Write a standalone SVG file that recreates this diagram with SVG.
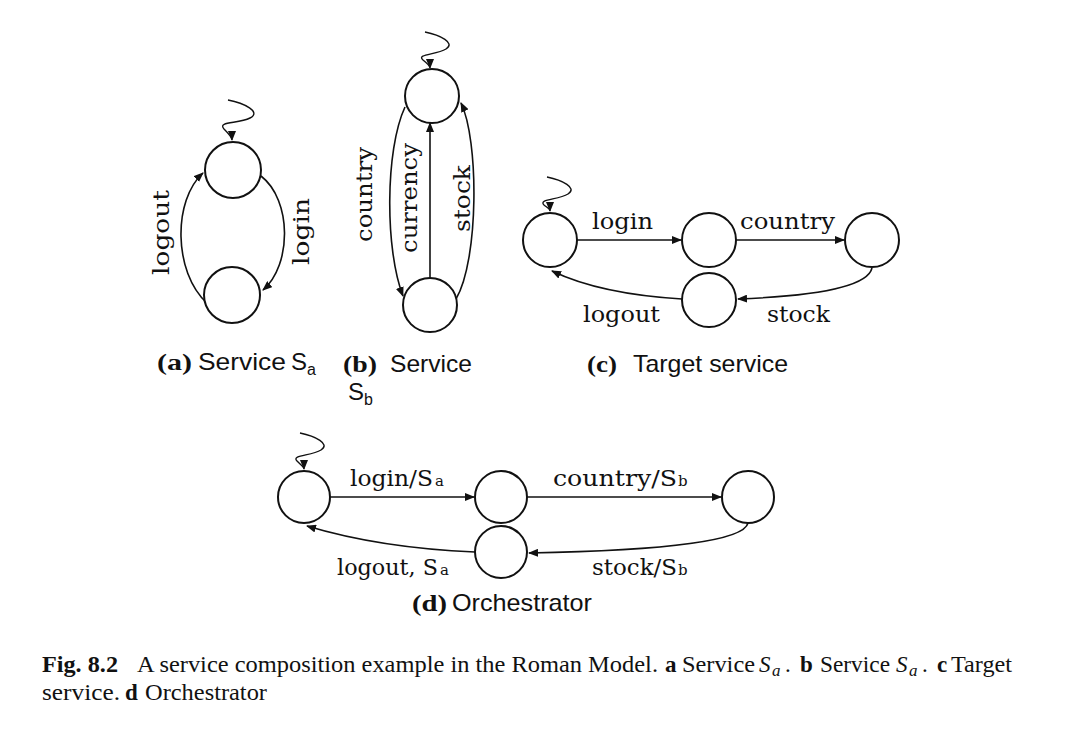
<svg xmlns="http://www.w3.org/2000/svg" width="1084" height="748" viewBox="0 0 1084 748">
<style>
.st{fill:#fff;stroke:#111;stroke-width:2}
.ed{fill:none;stroke:#111;stroke-width:1.6}
.sq{fill:none;stroke:#111;stroke-width:1.4}
.lb{font-family:"DejaVu Serif","Liberation Serif",serif;font-size:22px;fill:#111}
.sub{font-family:"DejaVu Serif","Liberation Serif",serif;font-size:15px;fill:#111}
.cb{font-family:"Liberation Serif",serif;font-weight:bold;font-size:24px;fill:#111}
.cs{font-family:"Liberation Sans",Arial,sans-serif;font-size:24px;fill:#111}
.css{font-family:"Liberation Sans",Arial,sans-serif;font-size:16px;fill:#111}
.fc{font-family:"Liberation Serif",serif;font-size:23px;fill:#111}
.fb{font-family:"Liberation Serif",serif;font-weight:bold;font-size:23px;fill:#111}
.fi{font-family:"Liberation Serif",serif;font-style:italic;font-size:23px;fill:#111}
.fis{font-family:"Liberation Serif",serif;font-style:italic;font-size:17px;fill:#111}
</style>
<defs>
<marker id="ah" markerWidth="10" markerHeight="8" refX="9" refY="4" orient="auto" markerUnits="userSpaceOnUse">
<path d="M0,0 L10,4 L0,8 z" fill="#111"/>
</marker>
</defs>

<g id="connectors">
<!-- (a) -->
<path class="sq" d="M228,100 C244,103 262,112 250,118 C238,124 217,121 224,129 C229,134 232,137 232,140" marker-end="url(#ah)"/>
<path class="ed" d="M207,303 C173,272 173,200 203,173" marker-end="url(#ah)"/>
<path class="ed" d="M261,176 C292,200 292,265 263,290" marker-end="url(#ah)"/>
<!-- (b) -->
<path class="sq" d="M425,32 C440,35 456,43 446,49 C436,55 416,54 423,60 C428,64 430,66 430,68" marker-end="url(#ah)"/>
<path class="ed" d="M405,107 C385,150 385,250 403,296" marker-end="url(#ah)"/>
<path class="ed" d="M430,278 L430,123" marker-end="url(#ah)"/>
<path class="ed" d="M456,299 C479,260 479,140 461,103" marker-end="url(#ah)"/>
<!-- (c) -->
<path class="sq" d="M547,177 C562,180 578,188 568,194 C558,200 538,199 544,205 C548,208 550,209 550,211" marker-end="url(#ah)"/>
<path class="ed" d="M577,240 L681,240" marker-end="url(#ah)"/>
<path class="ed" d="M736,240 L844,240" marker-end="url(#ah)"/>
<path class="ed" d="M872,268 Q866,294 738,299" marker-end="url(#ah)"/>
<path class="ed" d="M682,299 Q600,294 552,271" marker-end="url(#ah)"/>
<!-- (d) -->
<path class="sq" d="M300,433 C315,436 331,444 321,450 C311,456 291,455 297,461 C301,465 304,467 304,469" marker-end="url(#ah)"/>
<path class="ed" d="M330,497 L474,497" marker-end="url(#ah)"/>
<path class="ed" d="M527,497 L721,497" marker-end="url(#ah)"/>
<path class="ed" d="M748,523 Q742,549 529,553" marker-end="url(#ah)"/>
<path class="ed" d="M475,552 Q380,548 307,526" marker-end="url(#ah)"/>
</g>

<g id="a-s0"><circle class="st" cx="233" cy="170" r="28"/></g>
<g id="a-s1"><circle class="st" cx="232" cy="295" r="28"/></g>
<g id="b-s0"><circle class="st" cx="432" cy="96" r="27"/></g>
<g id="b-s1"><circle class="st" cx="430" cy="305" r="27"/></g>
<g id="c-s0"><circle class="st" cx="550" cy="240" r="27"/></g>
<g id="c-s1"><circle class="st" cx="709" cy="240" r="27"/></g>
<g id="c-s2"><circle class="st" cx="872" cy="240" r="27"/></g>
<g id="c-s3"><circle class="st" cx="709" cy="300" r="27"/></g>
<g id="d-s0"><circle class="st" cx="304" cy="497" r="26"/></g>
<g id="d-s1"><circle class="st" cx="501" cy="497" r="26"/></g>
<g id="d-s2"><circle class="st" cx="748" cy="497" r="26"/></g>
<g id="d-s3"><circle class="st" cx="501" cy="552" r="26"/></g>

<g id="labels">
<text class="lb" transform="translate(169,275) rotate(-90)" textLength="85" lengthAdjust="spacingAndGlyphs">logout</text>
<text class="lb" transform="translate(309,265) rotate(-90)" textLength="67" lengthAdjust="spacingAndGlyphs">login</text>
<text class="lb" transform="translate(372,242) rotate(-90)" textLength="95" lengthAdjust="spacingAndGlyphs">country</text>
<text class="lb" transform="translate(417,253) rotate(-90)" textLength="110" lengthAdjust="spacingAndGlyphs">currency</text>
<text class="lb" transform="translate(470,232) rotate(-90)" textLength="67" lengthAdjust="spacingAndGlyphs">stock</text>

<text class="lb" x="592" y="229" textLength="61" lengthAdjust="spacingAndGlyphs">login</text>
<text class="lb" x="740" y="229" textLength="95" lengthAdjust="spacingAndGlyphs">country</text>
<text class="lb" x="583" y="322" textLength="77" lengthAdjust="spacingAndGlyphs">logout</text>
<text class="lb" x="767" y="322" textLength="63" lengthAdjust="spacingAndGlyphs">stock</text>

<text class="lb" x="350" y="486" textLength="83" lengthAdjust="spacingAndGlyphs">login/S</text>
<text class="sub" x="435" y="486">a</text>
<text class="lb" x="553" y="486" textLength="124" lengthAdjust="spacingAndGlyphs">country/S</text>
<text class="sub" x="678" y="486">b</text>
<text class="lb" x="337" y="575" textLength="101" lengthAdjust="spacingAndGlyphs">logout, S</text>
<text class="sub" x="440" y="575">a</text>
<text class="lb" x="592" y="575" textLength="85" lengthAdjust="spacingAndGlyphs">stock/S</text>
<text class="sub" x="678" y="575">b</text>
</g>

<g id="subcaptions">
<text class="cb" x="157" y="370" textLength="35" lengthAdjust="spacingAndGlyphs">(a)</text>
<text class="cs" x="198" y="370" textLength="88" lengthAdjust="spacingAndGlyphs">Service</text>
<text class="cs" x="291" y="370">S</text>
<text class="css" x="307" y="375">a</text>

<text class="cb" x="343" y="372" textLength="34" lengthAdjust="spacingAndGlyphs">(b)</text>
<text class="cs" x="390" y="372" textLength="82" lengthAdjust="spacingAndGlyphs">Service</text>
<text class="cs" x="348" y="400">S</text>
<text class="css" x="364" y="405">b</text>

<text class="cb" x="587" y="372" textLength="30" lengthAdjust="spacingAndGlyphs">(c)</text>
<text class="cs" x="633" y="372" textLength="155" lengthAdjust="spacingAndGlyphs">Target service</text>

<text class="cb" x="412" y="611" textLength="35" lengthAdjust="spacingAndGlyphs">(d)</text>
<text class="cs" x="452" y="611" textLength="140" lengthAdjust="spacingAndGlyphs">Orchestrator</text>
</g>

<g id="caption">
<text class="fb" x="42" y="672" textLength="76" lengthAdjust="spacingAndGlyphs">Fig. 8.2</text>
<text class="fc" x="137" y="672" textLength="521" lengthAdjust="spacingAndGlyphs">A service composition example in the Roman Model.</text>
<text class="fb" x="665" y="672">a</text>
<text class="fc" x="682" y="672" textLength="73" lengthAdjust="spacingAndGlyphs">Service</text>
<text class="fi" x="759" y="672">S</text>
<text class="fis" x="772" y="676">a</text>
<text class="fc" x="785" y="672">.</text>
<text class="fb" x="800" y="672">b</text>
<text class="fc" x="820" y="672" textLength="70" lengthAdjust="spacingAndGlyphs">Service</text>
<text class="fi" x="896" y="672">S</text>
<text class="fis" x="909" y="676">a</text>
<text class="fc" x="922" y="672">.</text>
<text class="fb" x="937" y="672">c</text>
<text class="fc" x="951" y="672" textLength="61" lengthAdjust="spacingAndGlyphs">Target</text>
<text class="fc" x="42" y="700" textLength="78" lengthAdjust="spacingAndGlyphs">service.</text>
<text class="fb" x="125" y="700">d</text>
<text class="fc" x="145" y="700" textLength="122" lengthAdjust="spacingAndGlyphs">Orchestrator</text>
</g>
</svg>
